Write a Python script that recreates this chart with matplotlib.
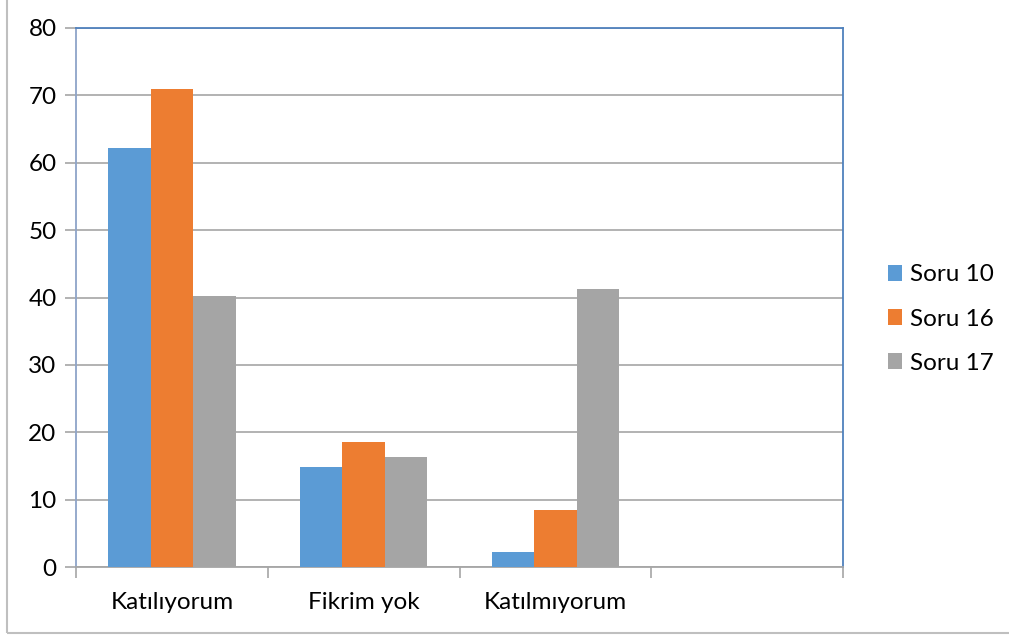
import numpy as np
import matplotlib.pyplot as plt
from matplotlib.patches import Rectangle

plt.rcParams['font.family'] = ['Lato', 'DejaVu Sans']

# chart values
categories = ['Katılıyorum', 'Fikrim yok', 'Katılmıyorum', '']
series = ['Soru 10', 'Soru 16', 'Soru 17']
soru10 = [62.2, 14.8, 2.2, np.nan]
soru16 = [70.9, 18.5, 8.5, np.nan]
soru17 = [40.2, 16.4, 41.3, np.nan]
colors = ['#5B9BD5', '#ED7D31', '#A5A5A5']

fig = plt.figure(figsize=(10.09, 6.37), dpi=100)
ax = fig.add_axes([76 / 1009, 1 - 567 / 637, (843 - 76) / 1009, (567 - 28) / 637])

x = np.arange(len(categories))
w = 0.222
for i, (vals, c, name) in enumerate(zip([soru10, soru16, soru17], colors, series)):
    ax.bar(x + (i - 1) * w, vals, w, color=c, label=name, zorder=3)

ax.set_xlim(-0.5, 3.5)
ax.set_ylim(0, 80)
ax.set_yticks(range(0, 81, 10))
ax.yaxis.grid(True, color='#A6A6A6', linewidth=1.2, zorder=0)

# category labels between the boundary ticks
ax.set_xticks(x)
ax.set_xticklabels(categories, fontsize=17.5)
ax.tick_params(axis='x', length=0, pad=18)
ax.set_xticks(np.arange(-0.5, 4.0, 1), minor=True)
ax.tick_params(axis='x', which='minor', length=8, color='#A6A6A6', width=1.2, direction='out')
ax.tick_params(axis='y', length=8, color='#A6A6A6', width=1.2, labelsize=17.5, pad=6)

for s in ['top', 'right']:
    ax.spines[s].set_color('#4F81BD')
    ax.spines[s].set_linewidth(1.3)
ax.spines['left'].set_color('#8EA4C8')
ax.spines['left'].set_linewidth(1.3)
ax.spines['bottom'].set_color('#A6A6A6')
ax.spines['bottom'].set_linewidth(1.3)

ax.legend(loc='center left', bbox_to_anchor=(1.03, 0.46), frameon=False,
          fontsize=17.5, handlelength=0.6, handleheight=0.6, handletextpad=0.3,
          labelspacing=0.95)

# outer chart border
fig.patches.append(Rectangle((7 / 1009, 4 / 637), 1.2, 1.2, transform=fig.transFigure,
                             fill=False, edgecolor='#BFBFBF', linewidth=1.5))

fig.savefig('out.png', dpi=100)
